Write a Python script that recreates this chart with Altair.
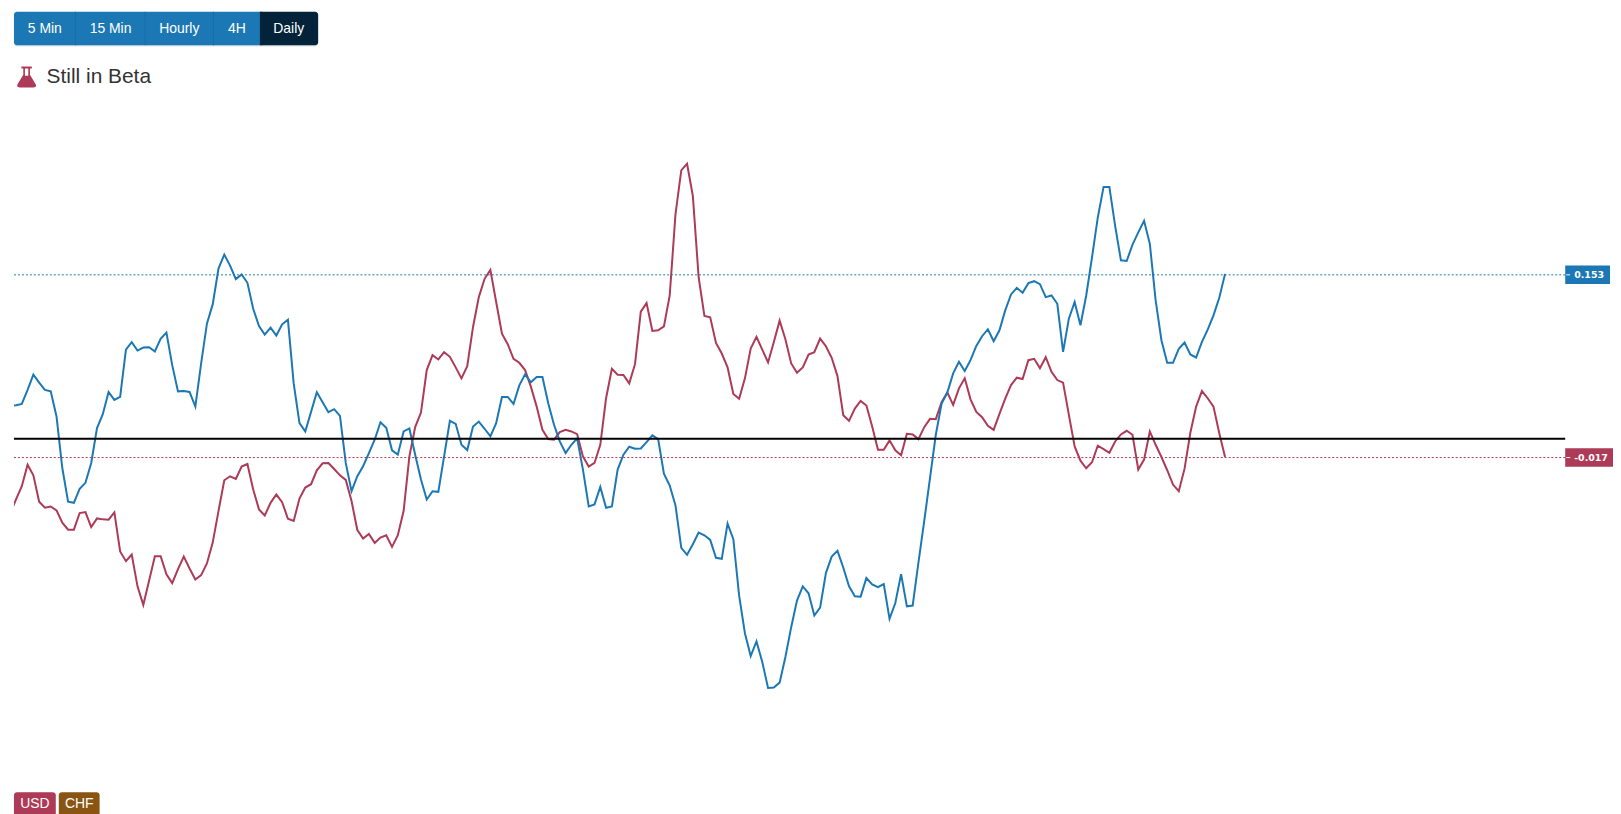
import json
import altair as alt
import pandas as pd

# Session index: 0 is the first session of March, weekdays only (ordinal axis)
first_index = -5

blue_values = [
    0.0306, 0.0312, 0.0324, 0.0454, 0.0596, 0.0522, 0.0454, 0.0441, 0.0207, -0.0272,
    -0.0586, -0.0596, -0.0466, -0.0410, -0.0225, 0.0099, 0.0228, 0.0435, 0.0361, 0.0389,
    0.0830, 0.0898, 0.0821, 0.0849, 0.0852, 0.0812, 0.0929, 0.0988, 0.0685, 0.0441,
    0.0444, 0.0435, 0.0299, 0.0701, 0.1071, 0.1250, 0.1583, 0.1713, 0.1611, 0.1485,
    0.1528, 0.1451, 0.1210, 0.1049, 0.0969, 0.1034, 0.0960, 0.1065, 0.1108, 0.0515,
    0.0145, 0.0068, 0.0250, 0.0432, 0.0340, 0.0247, 0.0275, 0.0213, -0.0225, -0.0488,
    -0.0349, -0.0256, -0.0133, -0.0009, 0.0154, 0.0102, -0.0108, -0.0148, 0.0068, 0.0096,
    -0.0148, -0.0380, -0.0565, -0.0488, -0.0494, -0.0164, 0.0167, 0.0139, -0.0056, -0.0105,
    0.0114, 0.0160, 0.0093, 0.0022, 0.0145, 0.0389, 0.0389, 0.0324, 0.0497, 0.0599,
    0.0525, 0.0574, 0.0574, 0.0330, 0.0130, -0.0025, -0.0133, -0.0056, 0.0003, -0.0287,
    -0.0630, -0.0611, -0.0448, -0.0642, -0.0630, -0.0287, -0.0148, -0.0074, -0.0093, -0.0090,
    -0.0031, 0.0031, -0.0003, -0.0324, -0.0435, -0.0620, -0.1015, -0.1080, -0.0981, -0.0873,
    -0.0898, -0.0941, -0.1108, -0.1117, -0.0790, -0.0935, -0.1460, -0.1809, -0.2022, -0.1886,
    -0.2077, -0.2318, -0.2315, -0.2269, -0.2031, -0.1753, -0.1506, -0.1373, -0.1438, -0.1645,
    -0.1571, -0.1250, -0.1096, -0.1043, -0.1198, -0.1373, -0.1466, -0.1469, -0.1296, -0.1355,
    -0.1380, -0.1352, -0.1676, -0.1528, -0.1259, -0.1559, -0.1552, -0.1151, -0.0765, -0.0364,
    0.0037, 0.0327, 0.0432, 0.0608, 0.0716, 0.0630, 0.0731, 0.0864, 0.0954, 0.1019,
    0.0907, 0.1009, 0.1194, 0.1343, 0.1404, 0.1358, 0.1448, 0.1466, 0.1438, 0.1318,
    0.1333, 0.1256, 0.0809, 0.1117, 0.1272, 0.1056, 0.1333, 0.1688, 0.2059, 0.2343,
    0.2343, 0.1981, 0.1660, 0.1654, 0.1806, 0.1920, 0.2028, 0.1812, 0.1287, 0.0917,
    0.0707, 0.0707, 0.0836, 0.0895, 0.0784, 0.0756, 0.0901, 0.1015, 0.1148, 0.1312,
    0.1534,
]

red_values = [
    -0.0694, -0.0565, -0.0441, -0.0241, -0.0340, -0.0586, -0.0642, -0.0630, -0.0667, -0.0781,
    -0.0846, -0.0846, -0.0691, -0.0682, -0.0821, -0.0741, -0.0750, -0.0753, -0.0685, -0.1049,
    -0.1139, -0.1077, -0.1373, -0.1546, -0.1321, -0.1093, -0.1093, -0.1262, -0.1343, -0.1213,
    -0.1096, -0.1207, -0.1309, -0.1269, -0.1160, -0.0966, -0.0673, -0.0386, -0.0349, -0.0373,
    -0.0259, -0.0235, -0.0472, -0.0657, -0.0713, -0.0596, -0.0519, -0.0590, -0.0744, -0.0765,
    -0.0556, -0.0454, -0.0423, -0.0293, -0.0228, -0.0225, -0.0281, -0.0340, -0.0383, -0.0580,
    -0.0849, -0.0929, -0.0886, -0.0969, -0.0920, -0.0898, -0.1006, -0.0898, -0.0673, -0.0164,
    0.0108, 0.0244, 0.0639, 0.0778, 0.0738, 0.0806, 0.0762, 0.0664, 0.0562, 0.0676,
    0.1040, 0.1318, 0.1488, 0.1571, 0.1272, 0.0978, 0.0880, 0.0744, 0.0707, 0.0639,
    0.0485, 0.0299, 0.0083, -0.0003, -0.0009, 0.0062, 0.0083, 0.0068, 0.0043, -0.0164,
    -0.0259, -0.0225, -0.0056, 0.0377, 0.0651, 0.0596, 0.0593, 0.0515, 0.0694, 0.1182,
    0.1262, 0.1003, 0.1009, 0.1046, 0.1333, 0.2090, 0.2497, 0.2559, 0.2259, 0.1503,
    0.1142, 0.1130, 0.0892, 0.0793, 0.0664, 0.0417, 0.0373, 0.0562, 0.0840, 0.0948,
    0.0830, 0.0710, 0.0901, 0.1099, 0.0926, 0.0701, 0.0614, 0.0664, 0.0784, 0.0806,
    0.0932, 0.0861, 0.0753, 0.0583, 0.0219, 0.0167, 0.0281, 0.0352, 0.0309, 0.0114,
    -0.0102, -0.0102, -0.0015, -0.0108, -0.0154, 0.0046, 0.0040, -0.0003, 0.0108, 0.0185,
    0.0182, 0.0340, 0.0429, 0.0315, 0.0469, 0.0562, 0.0367, 0.0250, 0.0201, 0.0120,
    0.0083, 0.0231, 0.0373, 0.0500, 0.0568, 0.0556, 0.0731, 0.0744, 0.0657, 0.0759,
    0.0623, 0.0546, 0.0522, 0.0222, -0.0071, -0.0204, -0.0275, -0.0219, -0.0065, -0.0096,
    -0.0130, -0.0025, 0.0040, 0.0074, 0.0037, -0.0287, -0.0194, 0.0068, -0.0056, -0.0170,
    -0.0293, -0.0426, -0.0488, -0.0278, 0.0056, 0.0299, 0.0444, 0.0377, 0.0299, 0.0052,
    -0.0170,
]

month_ticks = [0, 21, 43, 66, 86, 109, 131, 152, 175, 196]
month_labels = ["mars", "avr.", "mai", "juin", "juil.", "août", "sept.", "oct.", "nov.", "déc."]
y_ticks = [-0.25, -0.2, -0.15, -0.1, -0.05, 0, 0.05, 0.1, 0.15, 0.2, 0.25, 0.3]

blue_last = 0.1525
red_last = -0.0175
blue_last_label = "0.153"
red_last_label = "-0.017"

button_labels = ["5 Min", "15 Min", "Hourly", "4H", "Daily"]
badge_labels = ["USD", "CHF"]
title_text = "Still in Beta"

BLUE = "#1c78b4"
RED = "#ad3a56"
DARK = "#03233a"
BROWN = "#8a5512"
GRID = "#d6dade"
AXIS = "#8dbcd8"
TEXT = "#444444"
BODY = "#333333"
SANS = "Liberation Sans"
AXIS_FONT = "DejaVu Sans"

W, H = 1558, 660
OX, OY = 14, 97  # page position of the plot's corner

x_domain = [-4.354, 263.8]
y_domain = [-0.2947, 0.3167]
x_scale = alt.Scale(domain=x_domain, nice=False, zero=False)
y_scale = alt.Scale(domain=y_domain, nice=False, zero=False)

idx = list(range(first_index, first_index + len(blue_values)))
blue_df = pd.DataFrame({"i": idx, "v": blue_values})
red_df = pd.DataFrame({"i": idx[:len(red_values)], "v": red_values})
one = pd.DataFrame({"a": [0]})

label_map = json.dumps({str(t): l for t, l in zip(month_ticks, month_labels)}, ensure_ascii=False)

x_axis = alt.Axis(
    values=month_ticks, labelExpr=f"{label_map}[datum.value]", title=None, grid=True,
    gridColor=GRID, gridWidth=1, domainColor=AXIS, tickColor=AXIS, tickSize=4,
    labelFont=AXIS_FONT, labelFontSize=9.5, labelColor=TEXT, labelPadding=5,
    labelOverlap=False, labelFlush=False,
)
y_axis = alt.Axis(
    orient="right", values=y_ticks,
    labelExpr="datum.value == 0 ? '0.00000' : format(datum.value, '.3f')", title=None,
    grid=True, gridColor=GRID, gridWidth=1, domainColor=AXIS, tickColor=AXIS, tickSize=4,
    labelFont=AXIS_FONT, labelFontSize=9.5, labelColor=TEXT, labelPadding=5,
    labelOverlap=False,
)


def series(df, color, with_axes=False):
    return alt.Chart(df).mark_line(color=color, strokeWidth=2, clip=True, interpolate="linear").encode(
        x=alt.X("i:Q", scale=x_scale, axis=x_axis if with_axes else None),
        y=alt.Y("v:Q", scale=y_scale, axis=y_axis if with_axes else None),
    )


def level(value, color, width=1, dash=None):
    kw = {"strokeDash": dash} if dash else {}
    return alt.Chart(pd.DataFrame({"v": [value]})).mark_rule(color=color, strokeWidth=width, **kw).encode(
        y=alt.Y("v:Q", scale=y_scale, axis=None)
    )


def box(x0, x1, y0, y1, color, **kw):
    return alt.Chart(one).mark_rect(color=color, **kw).encode(
        x=alt.value(x0 - OX), x2=alt.value(x1 - OX), y=alt.value(y0 - OY), y2=alt.value(y1 - OY)
    )


def label(text, x, y, size=14, color="white", align="center", font=SANS):
    return alt.Chart(one).mark_text(
        font=font, fontSize=size, color=color, align=align, baseline="middle"
    ).encode(x=alt.value(x - OX), y=alt.value(y - OY), text=alt.value(text))


def tag(value, text, color, right):
    half = 0.0086
    d = pd.DataFrame({"v": [value], "top": [value + half], "bot": [value - half]})
    rect = alt.Chart(d).mark_rect(color=color).encode(
        x=alt.value(1572 - OX), x2=alt.value(right - OX),
        y=alt.Y("top:Q", scale=y_scale, axis=None), y2="bot:Q",
    )
    dash = alt.Chart(d).mark_rule(color="white", strokeWidth=1).encode(
        x=alt.value(1573 - OX), x2=alt.value(1577 - OX),
        y=alt.Y("v:Q", scale=y_scale, axis=None),
    )
    txt = alt.Chart(d).mark_text(
        font=AXIS_FONT, fontSize=9.5, color="white", align="left", baseline="middle", fontWeight=600
    ).encode(
        x=alt.value(1581 - OX), y=alt.Y("v:Q", scale=y_scale, axis=None), text=alt.value(text)
    )
    return [rect, dash, txt]


flask_path = (
    "M-0.5,-1 L0.5,-1 L0.5,-0.8 L0.32,-0.8 L0.32,-0.2 L0.88,0.72 Q0.98,1 0.62,1 "
    "L-0.62,1 Q-0.98,1 -0.88,0.72 L-0.32,-0.2 L-0.32,-0.8 L-0.5,-0.8 Z "
    "M-0.16,-0.8 L-0.16,-0.12 L0.16,-0.12 L0.16,-0.8 Z"
)
flask = alt.Chart(one).mark_point(
    shape=flask_path, filled=True, color=RED, opacity=1, size=441, strokeWidth=0
).encode(x=alt.value(26.7 - OX), y=alt.value(75.5 - OY))

button_edges = [14, 75.7, 145.7, 214.3, 261, 319.5]
button_centers = [45, 111, 180, 238, 290]

layers = [
    series(red_df, RED, with_axes=True),
    series(blue_df, BLUE),
    level(0, "black", width=2),
    level(blue_last, BLUE, dash=[2, 2]),
    level(red_last, RED, dash=[2, 2]),
    *tag(blue_last, blue_last_label, BLUE, 1617),
    *tag(red_last, red_last_label, RED, 1621),
    # button bar
    box(14, 319.5, 11, 45, "#dfe3e6", cornerRadius=3),
    box(14, 266, 10, 43.7, BLUE, cornerRadius=3),
    box(261, 319.5, 10, 43.7, DARK, cornerRadiusTopRight=3, cornerRadiusBottomRight=3),
    *[box(e - 0.5, e + 0.5, 10, 43.7, "#1a6da3") for e in button_edges[1:4]],
    *[label(t, c, 27) for t, c in zip(button_labels, button_centers)],
    # heading
    flask,
    label(title_text, 46.7, 76, size=21, color=BODY, align="left"),
    # currency badges
    box(14, 56, 794, 820, RED, cornerRadius=3),
    box(59, 100, 794, 820, BROWN, cornerRadius=3),
    label(badge_labels[0], 35, 805.5),
    label(badge_labels[1], 79.5, 805.5),
]

chart = (
    alt.layer(*layers)
    .properties(
        width=W, height=H,
        autosize=alt.AutoSizeParams(type="none"),
        padding={"left": 6, "top": 89, "right": 48, "bottom": 57},
        background="white",
    )
    .configure_view(stroke=None)
)

chart.save("out.html", embed_options={"renderer": "svg", "actions": False})
